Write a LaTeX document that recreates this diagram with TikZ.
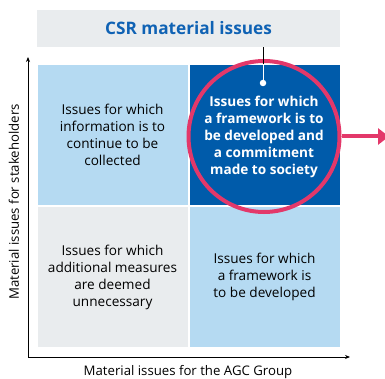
\documentclass[tikz,border=0pt]{standalone}
\usepackage{fontspec}
\setmainfont{Open Sans}
\usepackage{tikz}
\usetikzlibrary{arrows.meta, positioning, calc}
\usepackage{xcolor}
\definecolor{csrlight}{HTML}{B5DAF2}
\definecolor{csrdark}{HTML}{005BAA}
\definecolor{csrgray}{HTML}{E9ECEE}
\definecolor{csrtitle}{HTML}{0F62B4}
\definecolor{csrpink}{HTML}{E3386A}

\begin{document}
\begin{tikzpicture}[
  x=1pt, y=-1pt,
  cell/.style={rectangle, draw=white, line width=0.8pt, minimum width=151pt,
    minimum height=141pt, inner sep=0pt, align=center,
    font=\fontsize{13.6}{17}\selectfont},
  ring/.style={circle, draw=csrpink, line width=4pt, minimum size=151pt,
    inner sep=0pt, align=center, text=white,
    font=\fontsize{13.6}{17}\selectfont\bfseries},
  axis/.style={line width=0.8pt, -{Stealth[length=5pt, width=4pt]}},
  >=Stealth
]
  \useasboundingbox (0,0) rectangle (385,379);

  % Header
  \node[fill=csrgray, minimum width=303pt, minimum height=37pt, inner sep=0pt,
    font=\fontsize{17.2}{19}\selectfont\bfseries, text=csrtitle]
    (hdr) at (188.5,28.5) {CSR material issues};

  % Quadrants
  \node[cell, fill=csrlight] (tl) at (112.5,135) {Issues for which\\information is to\\continue to be\\collected};
  \node[cell, fill=csrdark] (tr) at (264.5,135) {};
  \node[cell, fill=csrgray] (bl) at (112.5,277) {Issues for which\\additional measures\\are deemed\\unnecessary};
  \node[cell, fill=csrlight] (br) at (264.5,277) {Issues for which\\a framework is\\to be developed};

  % Highlight
  \node[ring] (hl) at (264,136.5) {Issues for which\\a framework is to\\be developed and\\a commitment\\made to society};
  \node[circle, fill=white, minimum size=6.5pt, inner sep=0pt] (dot) at (263,83) {};
  \draw[line width=0.9pt] (hdr.south -| dot) -- (tr.north -| dot);
  \draw[white, line width=0.9pt] (tr.north -| dot) -- (dot);
  \coordinate (out) at (389,136.5);
  \draw[csrpink, line width=4pt, -{Triangle[length=11pt, width=16pt]}] (hl.east) -- (out);

  % Axes
  \coordinate (origin) at (28,357);
  \coordinate (ytip) at (28,57);
  \coordinate (xtip) at (350,357);
  \draw[axis] (origin) -- (ytip);
  \draw[axis] (origin) -- (xtip);
  \node[font=\fontsize{13.2}{15}\selectfont] (xlab) at (188,372) {Material issues for the AGC Group};
  \node[font=\fontsize{13.2}{15}\selectfont, rotate=90] (ylab) at (14,202) {Material issues for stakeholders};
\end{tikzpicture}
\end{document}
